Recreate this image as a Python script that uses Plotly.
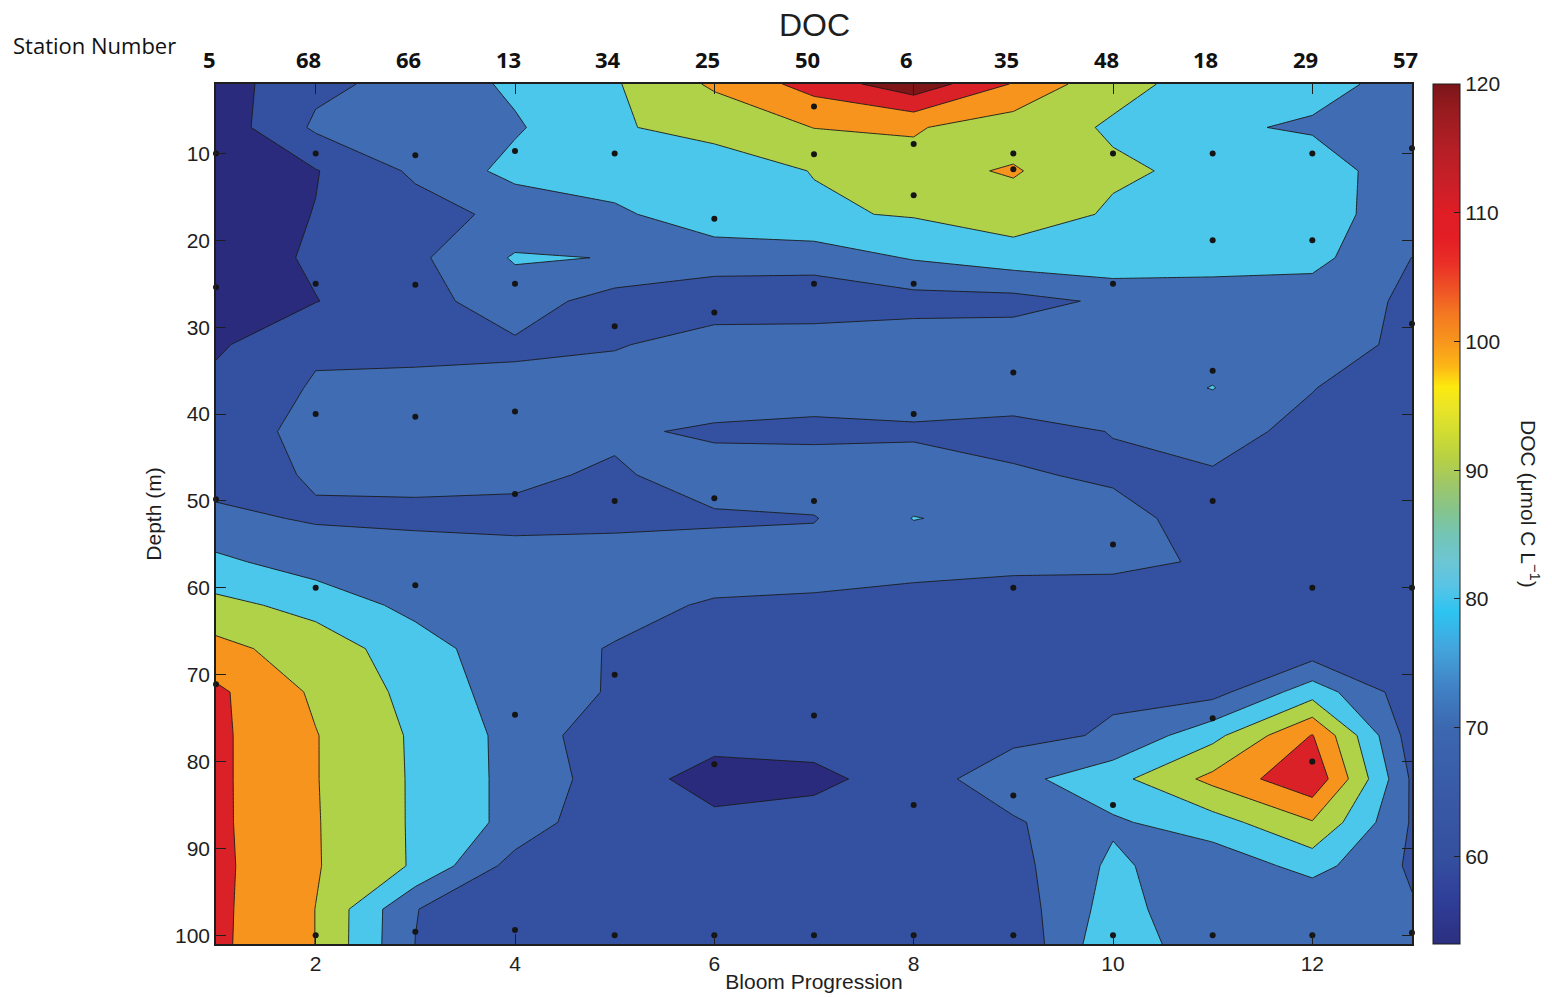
import plotly.graph_objects as go

# Bloom progression index (x) and the station sampled at each step
bloom = list(range(1, 14))
station_numbers = ["5", "68", "66", "13", "34", "25", "50", "6", "35", "48", "18", "29", "57"]

# Gridded depths (m) for the DOC section
depth_grid = list(range(2, 103, 5))

# Gridded DOC (umol C/L): one row per depth in depth_grid, one column per bloom step
doc_grid = [
    [55.0, 67.8, 73.2, 81.9, 89.1, 101.6, 113.9, 126.6, 109.3, 92.4, 86.9, 82.6, 77.2],
    [53.7, 71.6, 75.0, 78.8, 89.25, 92.5, 100.2, 100.9, 94.6, 89.0, 81.2, 79.0, 74.0],
    [52.0, 59.5, 71.7, 83.2, 85.0, 85.9, 90.3, 96.8, 101.0, 91.2, 88.3, 84.6, 74.6],
    [54.3, 60.3, 66.0, 72.7, 78.2, 86.0, 88.8, 90.8, 95.0, 88.9, 85.0, 84.0, 74.9],
    [54.0, 61.5, 68.0, 81.0, 79.67, 74.5, 74.6, 80.8, 85.5, 87.6, 83.0, 83.0, 69.9],
    [53.0, 59.7, 66.8, 74.75, 65.8, 64.0, 63.1, 66.2, 66.5, 71.7, 76.2, 74.75, 68.5],
    [58.5, 68.5, 66.0, 68.7, 69.0, 75.1, 76.4, 75.7, 76.0, 76.0, 76.0, 76.0, 67.0],
    [62.7, 71.0, 73.7, 72.0, 76.0, 75.0, 75.0, 75.0, 75.0, 75.0, 80.3, 70.3, 64.0],
    [65.0, 73.1, 74.0, 74.0, 71.25, 68.75, 67.4, 68.6, 67.2, 70.25, 73.0, 67.6, 63.0],
    [67.0, 70.7, 71.5, 71.3, 69.0, 73.5, 76.0, 74.4, 71.0, 68.7, 69.25, 64.0, 62.0],
    [71.8, 69.2, 68.6, 68.3, 67.0, 69.0, 69.5, 80.3, 77.3, 73.0, 66.2, 63.0, 62.0],
    [82.3, 74.9, 73.5, 72.55, 75.8, 73.5, 74.0, 74.0, 73.0, 72.0, 69.06, 65.0, 63.0],
    [92.7, 87.0, 76.85, 74.0, 72.0, 69.3, 68.4, 65.7, 63.6, 65.0, 63.0, 63.0, 62.0],
    [103.1, 94.9, 85.1, 72.7, 69.6, 66.0, 65.0, 64.0, 63.0, 63.0, 64.0, 63.9, 63.0],
    [111.9, 98.4, 86.9, 74.8, 69.2, 65.0, 65.0, 64.0, 64.0, 68.8, 66.5, 85.6, 64.2],
    [112.0, 100.4, 88.6, 76.8, 62.6, 63.8, 64.1, 63.0, 67.2, 71.1, 87.0, 110.5, 64.8],
    [112.0, 100.4, 88.8, 76.9, 65.0, 55.9, 57.5, 64.7, 76.8, 86.8, 102.7, 117.9, 68.5],
    [112.0, 100.6, 88.8, 76.9, 60.85, 62.3, 64.1, 64.0, 68.7, 78.5, 85.8, 99.3, 69.0],
    [112.3, 100.7, 88.9, 66.0, 62.0, 62.0, 63.0, 63.0, 66.6, 82.0, 73.0, 83.8, 68.5],
    [112.2, 99.9, 70.3, 62.0, 62.0, 62.0, 63.0, 63.0, 64.4, 84.4, 71.8, 70.2, 71.0],
    [112.0, 99.9, 69.8, 62.0, 62.0, 62.0, 63.0, 63.0, 61.0, 89.0, 72.0, 71.0, 71.0],
]

# Discrete bottle samples (bloom step, depth in m)
sample_bloom = [
    1, 1, 1, 1,
    2, 2, 2, 2, 2,
    3, 3, 3, 3, 3,
    4, 4, 4, 4, 4, 4,
    5, 5, 5, 5, 5,
    6, 6, 6, 6, 6,
    7, 7, 7, 7, 7, 7,
    8, 8, 8, 8, 8, 8,
    9, 9, 9, 9, 9, 9,
    10, 10, 10, 10, 10,
    11, 11, 11, 11, 11, 11,
    12, 12, 12, 12, 12,
    13, 13, 13, 13,
]
sample_depth = [
    10, 25.4, 49.8, 71.1,
    10, 25, 40, 60, 100,
    10.2, 25.1, 40.3, 59.7, 99.6,
    9.7, 25, 39.7, 49.2, 74.6, 99.4,
    10, 29.9, 50, 70, 100,
    17.5, 28.3, 49.7, 80.3, 100,
    4.6, 10.1, 25, 50, 74.7, 100,
    8.9, 14.8, 25, 40, 85, 100,
    10, 11.8, 35.2, 60, 83.9, 100,
    10, 25, 55, 85, 100,
    10, 20, 35, 50, 75, 100,
    10, 20, 60, 80, 100,
    9.4, 29.6, 60, 99.7,
]

# Contour levels every 10 units from 60 to 120; one fill colour per band
band_colors = ["#2a2b7c", "#3451a1", "#3f6cb3", "#4bc7ec",
               "#b0d249", "#f7941d", "#da2128", "#7e1517"]
n_bands = len(band_colors) - 1
band_scale = [[i / n_bands, c] for i, c in enumerate(band_colors)]

# Continuous colour ramp shown in the colour bar
cb_min, cb_max = 53.2, 120.0
ramp = [
    (53.2, "#2b2f80"), (57, "#30409a"), (60, "#34509f"), (65, "#395aa7"),
    (70, "#3c68b0"), (73, "#4080c4"), (76, "#44a3db"), (79, "#2dc4f1"),
    (81, "#58c4e6"), (83, "#6dc6d3"), (85, "#73c5b4"), (87, "#87c48b"),
    (89, "#9fc766"), (91, "#b8d143"), (93, "#d2dd31"), (95, "#ebe526"),
    (96.5, "#fde90e"), (98, "#fcb816"), (100, "#f8951d"), (102, "#f47a21"),
    (104, "#ef5425"), (106, "#ea3027"), (108, "#e31e25"), (110, "#df1d25"),
    (112, "#cc1f28"), (115, "#b41f25"), (118, "#961b1f"), (120, "#7c1518"),
]
ramp_scale = [[(v - cb_min) / (cb_max - cb_min), c] for v, c in ramp]

text_font = "Liberation Sans, Arial, sans-serif"
label_font = "Open Sans, Lato, sans-serif"
ink = "#1e1e1e"

fig = go.Figure()

fig.add_trace(go.Contour(
    x=bloom,
    y=depth_grid,
    z=doc_grid,
    autocontour=False,
    contours=dict(start=60, end=120, size=10, coloring="fill"),
    colorscale=band_scale,
    line=dict(color="#1a1a1a", width=0.9, smoothing=0),
    showscale=False,
    hoverinfo="skip",
))

fig.add_trace(go.Scatter(
    x=sample_bloom,
    y=sample_depth,
    mode="markers",
    marker=dict(size=6, color="#151515"),
    cliponaxis=False,
    hoverinfo="skip",
    showlegend=False,
))

# Colour bar for the DOC scale
fig.add_trace(go.Scatter(
    x=[None],
    y=[None],
    mode="markers",
    marker=dict(
        color=[cb_min],
        cmin=cb_min,
        cmax=cb_max,
        colorscale=ramp_scale,
        showscale=True,
        colorbar=dict(
            x=(1433 - 216) / 1196,
            xanchor="left",
            xpad=0,
            y=0.5,
            yanchor="middle",
            ypad=0,
            thickness=27,
            len=860,
            lenmode="pixels",
            outlinewidth=1,
            outlinecolor=ink,
            tickvals=[60, 70, 80, 90, 100, 110, 120],
            ticks="inside",
            ticklen=6,
            tickcolor=ink,
            tickfont=dict(family=text_font, size=21, color=ink),
        ),
    ),
    hoverinfo="skip",
    showlegend=False,
))

annotations = []
for xb, st in zip(bloom, station_numbers):
    annotations.append(dict(
        x=xb, xref="x", y=(944 - 59) / 860, yref="paper",
        text="<b>" + st + "</b>", showarrow=False,
        xanchor="center", yanchor="middle", xshift=-7,
        font=dict(family=label_font, size=22, color="#111"),
    ))
annotations.append(dict(
    x=(11 - 216) / 1196, xref="paper", y=(944 - 45) / 860, yref="paper",
    text="Station Number", showarrow=False, xanchor="left", yanchor="middle",
    font=dict(family=label_font, size=22, color="#111"),
))
annotations.append(dict(
    x=0.5, xref="paper", y=(944 - 25) / 860, yref="paper",
    text="DOC", showarrow=False, xanchor="center", yanchor="middle",
    font=dict(family=text_font, size=32, color=ink),
))
annotations.append(dict(
    x=(1530 - 216) / 1196, xref="paper", y=(944 - 504) / 860, yref="paper",
    text="DOC (\u03bcmol C L<sup>\u22121</sup>)", showarrow=False, textangle=90,
    xanchor="center", yanchor="middle",
    font=dict(family=text_font, size=21, color=ink),
))

fig.update_layout(
    width=1552,
    height=997,
    margin=dict(l=216, r=140, t=84, b=53, autoexpand=False),
    paper_bgcolor="white",
    plot_bgcolor="white",
    showlegend=False,
    annotations=annotations,
    xaxis=dict(
        range=[1, 13],
        tickvals=[2, 4, 6, 8, 10, 12],
        ticks="inside",
        ticklen=10,
        tickwidth=1,
        tickcolor=ink,
        showline=True,
        linecolor=ink,
        linewidth=1.5,
        mirror="ticks",
        showgrid=False,
        zeroline=False,
        tickfont=dict(family=text_font, size=21, color=ink),
        title=dict(text="Bloom Progression", standoff=0,
                   font=dict(family=text_font, size=21, color=ink)),
    ),
    yaxis=dict(
        range=[101, 2],
        tickvals=[10, 20, 30, 40, 50, 60, 70, 80, 90, 100],
        ticks="inside",
        ticklen=10,
        tickwidth=1,
        tickcolor=ink,
        showline=True,
        linecolor=ink,
        linewidth=1.5,
        mirror="ticks",
        showgrid=False,
        zeroline=False,
        tickfont=dict(family=text_font, size=21, color=ink),
        title=dict(text="Depth (m)", standoff=8,
                   font=dict(family=text_font, size=21, color=ink)),
    ),
)

fig.write_html("out.html")
